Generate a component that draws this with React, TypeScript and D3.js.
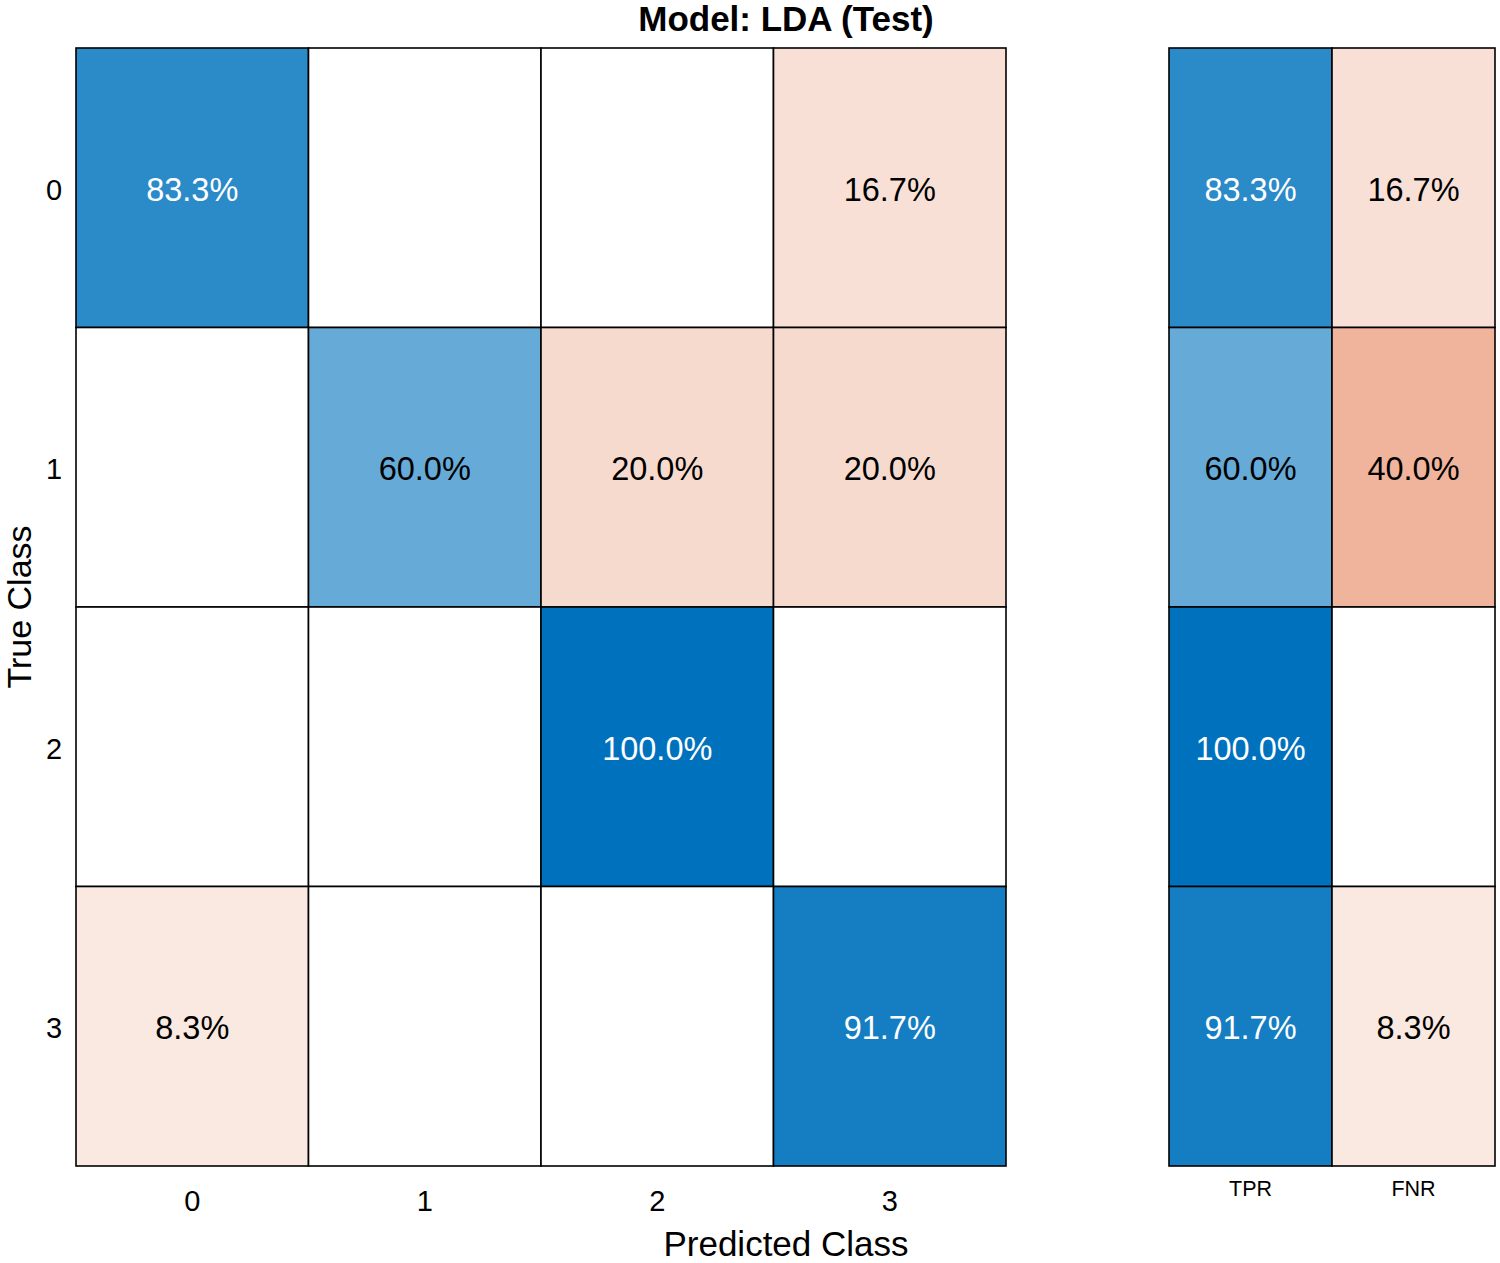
import * as d3 from 'd3';
import { useEffect, useRef } from 'react';

// class labels and row-normalized percentages
const classes = ['0', '1', '2', '3'];
const row0 = [83.3, 0, 0, 16.7];
const row1 = [0, 60.0, 20.0, 20.0];
const row2 = [0, 0, 100.0, 0];
const row3 = [8.3, 0, 0, 91.7];
const rates = ['TPR', 'FNR'];
const tpr = [83.3, 60.0, 100.0, 91.7];
const fnr = [16.7, 40.0, 0, 8.3];

const W = 1500;
const H = 1263;
const font = '"Liberation Sans", Arial, Helvetica, sans-serif';

const App = () => {
    const ref = useRef<any>();

    useEffect(() => {
        const svg = d3.select(ref.current);
        svg.selectAll('*').remove();

        const matrix = [row0, row1, row2, row3];
        const side = classes.map((c, i) => [tpr[i], fnr[i]]);

        const x = d3.scaleBand().domain(classes).range([76, 1006]);
        const y = d3.scaleBand().domain(classes).range([48, 1166]);
        const xs = d3.scaleBand().domain(rates).range([1169, 1495]);

        const blue = d3.interpolateRgb('#ffffff', 'rgb(0,114,189)');
        const red = d3.interpolateRgb('#ffffff', 'rgb(217,68,8)');
        const fill = (v: number, diag: boolean) => v === 0 ? '#ffffff' : (diag ? blue(v / 100) : red(Math.max(v, 12) / 100));
        const textFill = (v: number, diag: boolean) => diag && v > 70 ? '#ffffff' : '#000000';
        const fmt = (v: number) => v.toFixed(1) + '%';

        const cells: any[] = [];
        matrix.forEach((row, r) => row.forEach((v, c) => cells.push({ r, c, v, diag: r === c })));

        const main = svg.append('g');
        const g = main.selectAll('.cell').data(cells).join('g').attr('class', 'cell');
        g.append('rect')
            .attr('x', (d: any) => x(classes[d.c])!)
            .attr('y', (d: any) => y(classes[d.r])!)
            .attr('width', x.bandwidth())
            .attr('height', y.bandwidth())
            .attr('fill', (d: any) => fill(d.v, d.diag))
            .attr('stroke', '#000')
            .attr('stroke-width', 1.6);
        g.filter((d: any) => d.v > 0).append('text')
            .attr('x', (d: any) => x(classes[d.c])! + x.bandwidth() / 2)
            .attr('y', (d: any) => y(classes[d.r])! + y.bandwidth() / 2 + 2)
            .attr('text-anchor', 'middle')
            .attr('dominant-baseline', 'central')
            .attr('font-family', font)
            .attr('font-size', 32.5)
            .attr('fill', (d: any) => textFill(d.v, d.diag))
            .text((d: any) => fmt(d.v));

        const sideCells: any[] = [];
        side.forEach((row, r) => row.forEach((v, c) => sideCells.push({ r, c, v, diag: c === 0 })));
        const sg = svg.append('g').selectAll('.scell').data(sideCells).join('g').attr('class', 'scell');
        sg.append('rect')
            .attr('x', (d: any) => xs(rates[d.c])!)
            .attr('y', (d: any) => y(classes[d.r])!)
            .attr('width', xs.bandwidth())
            .attr('height', y.bandwidth())
            .attr('fill', (d: any) => fill(d.v, d.diag))
            .attr('stroke', '#000')
            .attr('stroke-width', 1.6);
        sg.filter((d: any) => d.v > 0).append('text')
            .attr('x', (d: any) => xs(rates[d.c])! + xs.bandwidth() / 2)
            .attr('y', (d: any) => y(classes[d.r])! + y.bandwidth() / 2 + 2)
            .attr('text-anchor', 'middle')
            .attr('dominant-baseline', 'central')
            .attr('font-family', font)
            .attr('font-size', 32.5)
            .attr('fill', (d: any) => textFill(d.v, d.diag))
            .text((d: any) => fmt(d.v));

        // tick labels
        svg.append('g').selectAll('text').data(classes).join('text')
            .attr('x', (d) => x(d)! + x.bandwidth() / 2)
            .attr('y', 1201)
            .attr('text-anchor', 'middle')
            .attr('dominant-baseline', 'central')
            .attr('font-family', font)
            .attr('font-size', 29)
            .text((d) => d);
        svg.append('g').selectAll('text').data(classes).join('text')
            .attr('x', 54)
            .attr('y', (d) => y(d)! + y.bandwidth() / 2 + 2)
            .attr('text-anchor', 'middle')
            .attr('dominant-baseline', 'central')
            .attr('font-family', font)
            .attr('font-size', 29)
            .text((d) => d);
        svg.append('g').selectAll('text').data(rates).join('text')
            .attr('x', (d) => xs(d)! + xs.bandwidth() / 2)
            .attr('y', 1189)
            .attr('text-anchor', 'middle')
            .attr('dominant-baseline', 'central')
            .attr('font-family', font)
            .attr('font-size', 21.5)
            .text((d) => d);

        // titles
        svg.append('text')
            .attr('x', 786).attr('y', 18)
            .attr('text-anchor', 'middle')
            .attr('dominant-baseline', 'central')
            .attr('font-family', font)
            .attr('font-weight', 'bold')
            .attr('font-size', 35)
            .text('Model: LDA (Test)');
        svg.append('text')
            .attr('x', 786).attr('y', 1243)
            .attr('text-anchor', 'middle')
            .attr('dominant-baseline', 'central')
            .attr('font-family', font)
            .attr('font-size', 35)
            .text('Predicted Class');
        svg.append('text')
            .attr('transform', 'translate(19,607) rotate(-90)')
            .attr('text-anchor', 'middle')
            .attr('dominant-baseline', 'central')
            .attr('font-family', font)
            .attr('font-size', 34)
            .text('True Class');
    }, []);

    return (
        <svg ref={ref} width={W} height={H} style={{ position: 'absolute', left: 0, top: 0, background: '#fff' }}></svg>
    );
};

export default App;
